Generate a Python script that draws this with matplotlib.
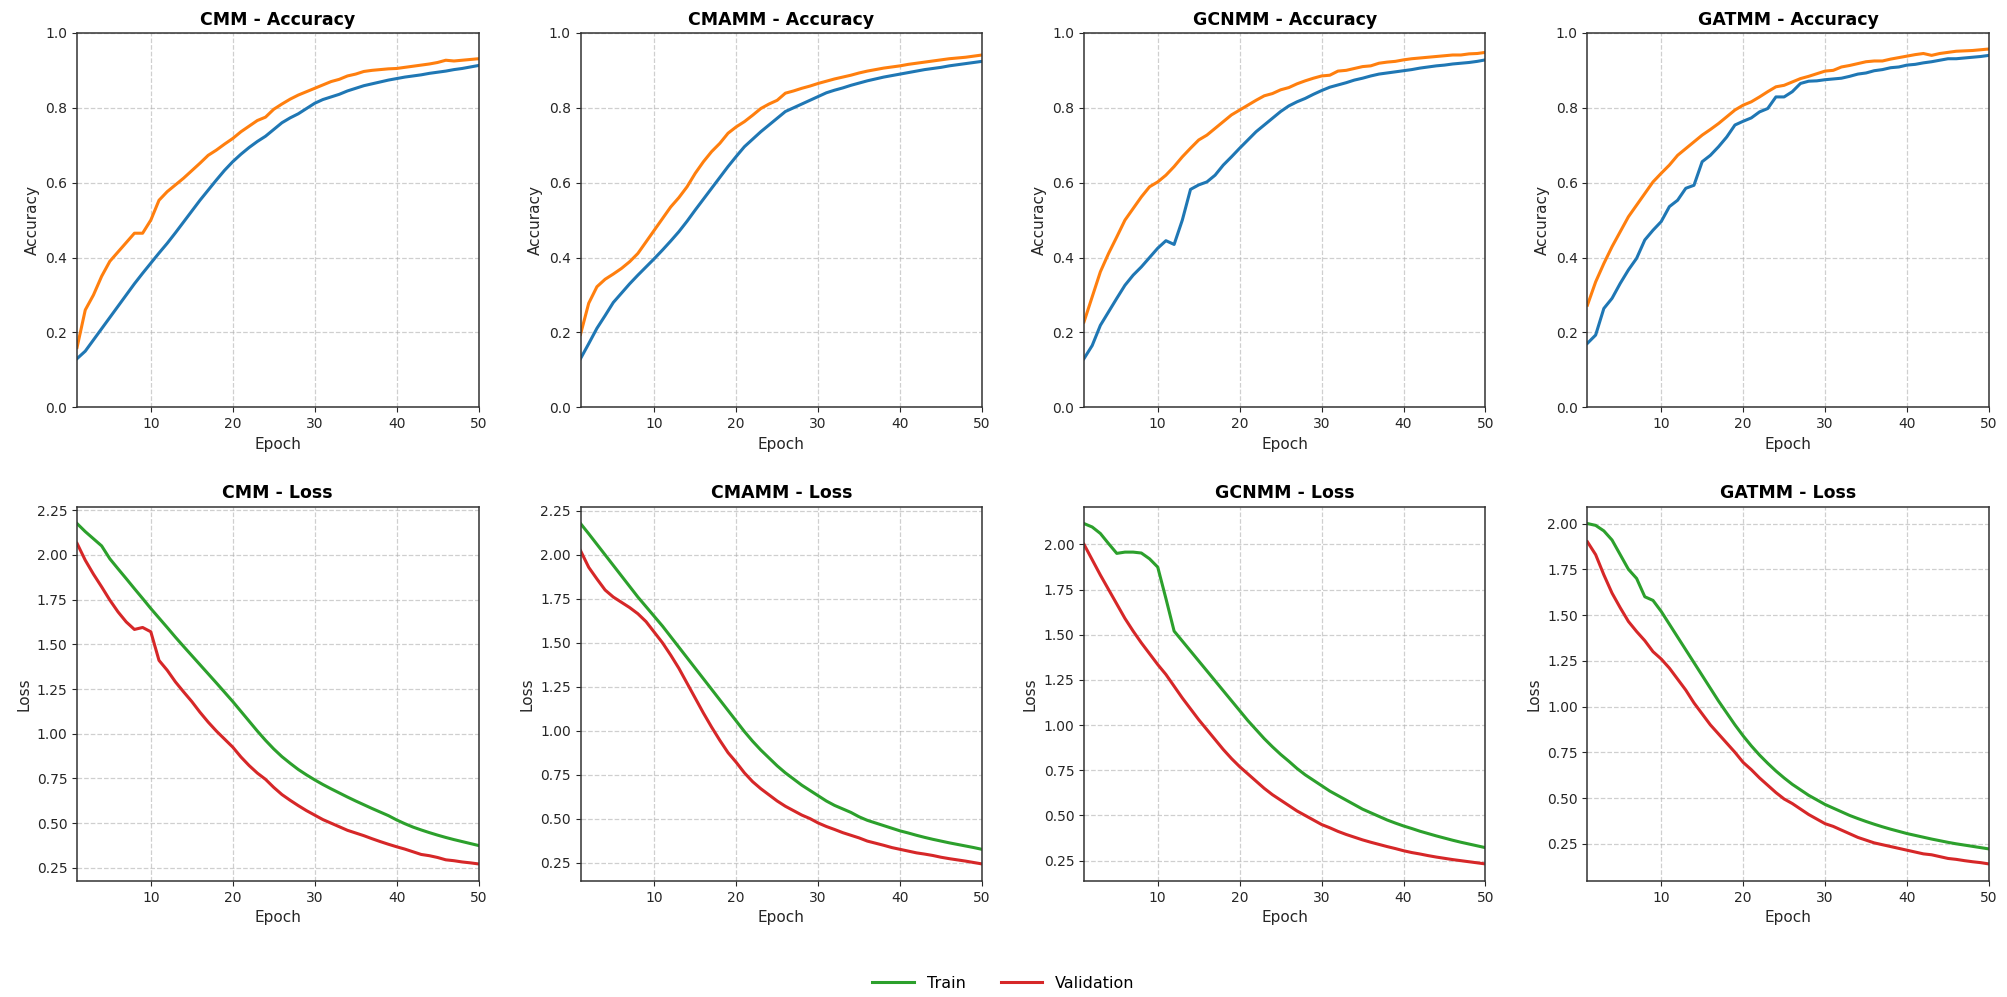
import matplotlib
matplotlib.use("Agg")
import matplotlib.pyplot as plt
from matplotlib.lines import Line2D

epochs = list(range(1, 51))
models = ["CMM", "CMAMM", "GCNMM", "GATMM"]

cmm_train_acc = [0.130, 0.150, 0.180, 0.210, 0.240, 0.270, 0.300, 0.330, 0.358, 0.385,
                 0.412, 0.438, 0.466, 0.495, 0.524, 0.553, 0.580, 0.607, 0.633, 0.656,
                 0.676, 0.694, 0.710, 0.724, 0.742, 0.760, 0.773, 0.784, 0.798, 0.812,
                 0.822, 0.829, 0.836, 0.845, 0.852, 0.859, 0.864, 0.869, 0.874, 0.878,
                 0.882, 0.885, 0.888, 0.892, 0.895, 0.898, 0.902, 0.905, 0.909, 0.913]
cmm_val_acc = [0.160, 0.260, 0.300, 0.350, 0.390, 0.415, 0.440, 0.465, 0.465, 0.500,
               0.553, 0.576, 0.594, 0.612, 0.632, 0.652, 0.673, 0.687, 0.703, 0.718,
               0.736, 0.751, 0.766, 0.775, 0.796, 0.810, 0.823, 0.834, 0.843, 0.852,
               0.861, 0.870, 0.876, 0.885, 0.890, 0.897, 0.900, 0.902, 0.904, 0.905,
               0.908, 0.911, 0.914, 0.917, 0.921, 0.927, 0.925, 0.927, 0.929, 0.931]
cmamm_train_acc = [0.130, 0.170, 0.211, 0.245, 0.280, 0.305, 0.330, 0.353, 0.375, 0.397,
                   0.420, 0.444, 0.469, 0.497, 0.527, 0.556, 0.585, 0.614, 0.643, 0.670,
                   0.696, 0.716, 0.736, 0.754, 0.772, 0.790, 0.800, 0.810, 0.820, 0.830,
                   0.840, 0.847, 0.853, 0.860, 0.866, 0.872, 0.877, 0.882, 0.886, 0.890,
                   0.894, 0.898, 0.902, 0.905, 0.908, 0.912, 0.915, 0.918, 0.921, 0.924]
cmamm_val_acc = [0.195, 0.278, 0.322, 0.342, 0.356, 0.371, 0.389, 0.411, 0.442, 0.473,
                 0.504, 0.535, 0.560, 0.589, 0.625, 0.656, 0.683, 0.705, 0.732, 0.749,
                 0.763, 0.780, 0.798, 0.810, 0.820, 0.839, 0.845, 0.852, 0.858, 0.865,
                 0.871, 0.877, 0.882, 0.887, 0.893, 0.898, 0.902, 0.906, 0.909, 0.912,
                 0.916, 0.919, 0.922, 0.925, 0.928, 0.931, 0.933, 0.935, 0.938, 0.941]
gcnmm_train_acc = [0.130, 0.165, 0.219, 0.255, 0.291, 0.326, 0.353, 0.375, 0.400, 0.425,
                   0.445, 0.435, 0.500, 0.582, 0.594, 0.602, 0.620, 0.647, 0.669, 0.692,
                   0.714, 0.736, 0.754, 0.772, 0.790, 0.805, 0.816, 0.825, 0.836, 0.846,
                   0.855, 0.861, 0.867, 0.874, 0.879, 0.885, 0.890, 0.893, 0.896, 0.899,
                   0.902, 0.906, 0.909, 0.912, 0.914, 0.917, 0.919, 0.921, 0.924, 0.928]
gcnmm_val_acc = [0.228, 0.295, 0.362, 0.411, 0.455, 0.500, 0.531, 0.562, 0.589, 0.602,
                 0.620, 0.643, 0.669, 0.692, 0.714, 0.727, 0.745, 0.763, 0.781, 0.794,
                 0.807, 0.820, 0.832, 0.838, 0.848, 0.854, 0.864, 0.872, 0.879, 0.885,
                 0.887, 0.898, 0.900, 0.905, 0.910, 0.912, 0.919, 0.922, 0.924, 0.928,
                 0.931, 0.933, 0.935, 0.937, 0.939, 0.941, 0.941, 0.944, 0.945, 0.948]
gatmm_train_acc = [0.171, 0.193, 0.264, 0.291, 0.331, 0.367, 0.398, 0.447, 0.473, 0.496,
                   0.536, 0.553, 0.585, 0.593, 0.656, 0.673, 0.696, 0.722, 0.754, 0.764,
                   0.773, 0.789, 0.798, 0.829, 0.829, 0.843, 0.865, 0.871, 0.872, 0.875,
                   0.877, 0.879, 0.884, 0.890, 0.893, 0.899, 0.902, 0.907, 0.909, 0.914,
                   0.916, 0.920, 0.923, 0.927, 0.931, 0.931, 0.933, 0.935, 0.937, 0.940]
gatmm_val_acc = [0.273, 0.335, 0.384, 0.429, 0.469, 0.509, 0.540, 0.571, 0.602, 0.625,
                 0.647, 0.673, 0.691, 0.709, 0.727, 0.742, 0.758, 0.776, 0.794, 0.807,
                 0.816, 0.829, 0.843, 0.856, 0.860, 0.869, 0.878, 0.884, 0.891, 0.898,
                 0.900, 0.909, 0.913, 0.918, 0.923, 0.925, 0.925, 0.930, 0.934, 0.938,
                 0.942, 0.945, 0.940, 0.945, 0.948, 0.951, 0.952, 0.953, 0.955, 0.957]

cmm_train_loss = [2.175, 2.130, 2.090, 2.050, 1.978, 1.922, 1.867, 1.811, 1.756, 1.700,
                  1.647, 1.594, 1.540, 1.488, 1.437, 1.386, 1.335, 1.284, 1.232, 1.180,
                  1.125, 1.070, 1.015, 0.963, 0.915, 0.872, 0.835, 0.800, 0.770, 0.742,
                  0.716, 0.692, 0.669, 0.646, 0.624, 0.603, 0.582, 0.562, 0.542, 0.518,
                  0.497, 0.478, 0.462, 0.447, 0.433, 0.420, 0.408, 0.397, 0.386, 0.375]
cmm_val_loss = [2.064, 1.970, 1.892, 1.821, 1.747, 1.681, 1.625, 1.583, 1.594, 1.570,
                1.410, 1.355, 1.290, 1.234, 1.180, 1.120, 1.065, 1.015, 0.970, 0.925,
                0.870, 0.822, 0.780, 0.745, 0.700, 0.660, 0.628, 0.598, 0.570, 0.545,
                0.520, 0.500, 0.480, 0.460, 0.445, 0.430, 0.413, 0.397, 0.382, 0.368,
                0.355, 0.340, 0.325, 0.318, 0.308, 0.295, 0.290, 0.283, 0.278, 0.272]
cmamm_train_loss = [2.178, 2.120, 2.060, 2.000, 1.940, 1.880, 1.820, 1.760, 1.705, 1.650,
                    1.595, 1.535, 1.475, 1.415, 1.355, 1.295, 1.235, 1.175, 1.115, 1.055,
                    0.995, 0.940, 0.890, 0.845, 0.800, 0.760, 0.725, 0.690, 0.660, 0.630,
                    0.600, 0.575, 0.555, 0.535, 0.510, 0.490, 0.475, 0.460, 0.445, 0.430,
                    0.418, 0.405, 0.393, 0.382, 0.372, 0.362, 0.353, 0.344, 0.335, 0.325]
cmamm_val_loss = [2.024, 1.929, 1.863, 1.800, 1.760, 1.730, 1.700, 1.665, 1.620, 1.560,
                  1.500, 1.430, 1.355, 1.270, 1.185, 1.100, 1.020, 0.945, 0.875, 0.820,
                  0.760, 0.710, 0.670, 0.635, 0.600, 0.570, 0.545, 0.520, 0.500, 0.475,
                  0.455, 0.438, 0.420, 0.405, 0.390, 0.372, 0.360, 0.348, 0.335, 0.325,
                  0.315, 0.305, 0.298, 0.290, 0.280, 0.272, 0.265, 0.258, 0.250, 0.242]
gcnmm_train_loss = [2.115, 2.096, 2.060, 2.004, 1.950, 1.957, 1.957, 1.952, 1.920, 1.874,
                    1.700, 1.520, 1.465, 1.410, 1.355, 1.300, 1.245, 1.190, 1.135, 1.080,
                    1.025, 0.975, 0.925, 0.880, 0.838, 0.800, 0.760, 0.725, 0.695, 0.665,
                    0.635, 0.610, 0.585, 0.560, 0.535, 0.515, 0.495, 0.475, 0.458, 0.442,
                    0.428, 0.413, 0.400, 0.387, 0.375, 0.363, 0.352, 0.342, 0.332, 0.322]
gcnmm_val_loss = [2.000, 1.915, 1.830, 1.750, 1.670, 1.590, 1.520, 1.455, 1.395, 1.335,
                  1.280, 1.215, 1.150, 1.090, 1.030, 0.975, 0.920, 0.865, 0.815, 0.770,
                  0.730, 0.690, 0.650, 0.615, 0.585, 0.555, 0.525, 0.500, 0.475, 0.450,
                  0.432, 0.412, 0.395, 0.380, 0.365, 0.352, 0.340, 0.328, 0.317, 0.305,
                  0.295, 0.287, 0.278, 0.270, 0.263, 0.256, 0.250, 0.244, 0.238, 0.232]
gatmm_train_loss = [2.000, 1.990, 1.960, 1.910, 1.830, 1.750, 1.700, 1.600, 1.580, 1.520,
                    1.450, 1.380, 1.310, 1.240, 1.170, 1.100, 1.030, 0.965, 0.900, 0.840,
                    0.785, 0.735, 0.690, 0.648, 0.610, 0.575, 0.545, 0.515, 0.490, 0.465,
                    0.445, 0.425, 0.405, 0.388, 0.372, 0.357, 0.343, 0.330, 0.318, 0.306,
                    0.296, 0.286, 0.276, 0.267, 0.258, 0.250, 0.243, 0.236, 0.229, 0.222]
gatmm_val_loss = [1.900, 1.830, 1.720, 1.620, 1.540, 1.465, 1.410, 1.360, 1.300, 1.260,
                  1.210, 1.150, 1.090, 1.020, 0.960, 0.900, 0.850, 0.800, 0.750, 0.695,
                  0.655, 0.610, 0.570, 0.530, 0.495, 0.470, 0.440, 0.410, 0.385, 0.360,
                  0.345, 0.325, 0.305, 0.285, 0.270, 0.255, 0.245, 0.235, 0.225, 0.215,
                  0.205, 0.195, 0.190, 0.180, 0.170, 0.165, 0.158, 0.152, 0.147, 0.140]

train_acc = [cmm_train_acc, cmamm_train_acc, gcnmm_train_acc, gatmm_train_acc]
val_acc = [cmm_val_acc, cmamm_val_acc, gcnmm_val_acc, gatmm_val_acc]
train_loss = [cmm_train_loss, cmamm_train_loss, gcnmm_train_loss, gatmm_train_loss]
val_loss = [cmm_val_loss, cmamm_val_loss, gcnmm_val_loss, gatmm_val_loss]

C_TRAIN_ACC = "#1f77b4"
C_VAL_ACC = "#ff7f0e"
C_TRAIN_LOSS = "#2ca02c"
C_VAL_LOSS = "#d62728"
TXT = "#262626"

plt.rcParams["font.family"] = "DejaVu Sans"
fig, axes = plt.subplots(2, 4, figsize=(20.07, 9.97), dpi=100)
fig.subplots_adjust(left=0.0384, right=0.991, top=0.967, bottom=0.1164,
                    wspace=0.254, hspace=0.265)


def style(ax):
    ax.set_xlim(1, 50)
    ax.grid(True, linestyle="--", color="#b0b0b0", alpha=0.6, linewidth=0.9)
    for s in ax.spines.values():
        s.set_color("#333333")
        s.set_linewidth(1.1)
    ax.tick_params(labelsize=10, colors=TXT)
    ax.set_xlabel("Epoch", fontsize=11, color=TXT)


for i, m in enumerate(models):
    ax = axes[0, i]
    ax.plot(epochs, train_acc[i], color=C_TRAIN_ACC, linewidth=2.2)
    ax.plot(epochs, val_acc[i], color=C_VAL_ACC, linewidth=2.2)
    ax.set_ylim(0, 1.0)
    style(ax)
    ax.set_ylabel("Accuracy", fontsize=11, color=TXT)
    ax.set_title(f"{m} - Accuracy", fontsize=12.5, fontweight="bold")

    ax = axes[1, i]
    ax.plot(epochs, train_loss[i], color=C_TRAIN_LOSS, linewidth=2.2)
    ax.plot(epochs, val_loss[i], color=C_VAL_LOSS, linewidth=2.2)
    style(ax)
    ax.set_ylabel("Loss", fontsize=11, color=TXT)
    ax.set_title(f"{m} - Loss", fontsize=12.5, fontweight="bold")

handles = [Line2D([0], [0], color=C_TRAIN_LOSS, linewidth=2.2),
           Line2D([0], [0], color=C_VAL_LOSS, linewidth=2.2)]
fig.legend(handles, ["Train", "Validation"], loc="center", bbox_to_anchor=(0.5, 0.014),
           ncol=2, frameon=False, fontsize=11.5, handlelength=2.6, columnspacing=2.2)

fig.savefig("out.png", dpi=100)
